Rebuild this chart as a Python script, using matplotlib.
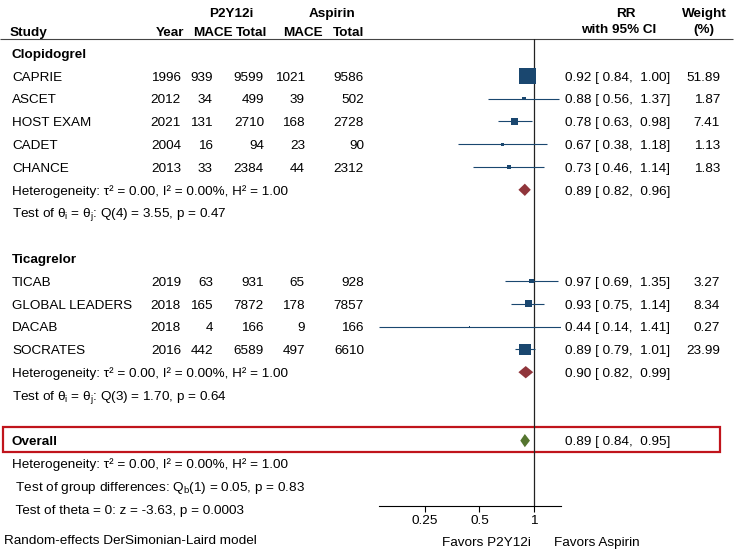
import numpy as np
import matplotlib
matplotlib.use("Agg")
import matplotlib.pyplot as plt
from matplotlib.patches import Rectangle

plt.rcParams["font.family"] = ["Liberation Sans", "DejaVu Sans"]
plt.rcParams["mathtext.fontset"] = "custom"
plt.rcParams["mathtext.rm"] = "Liberation Sans"

# ---- data ----
clop_names = ["CAPRIE", "ASCET", "HOST EXAM", "CADET", "CHANCE"]
clop_year = [1996, 2012, 2021, 2004, 2013]
clop_mace_p = [939, 34, 131, 16, 33]
clop_total_p = [9599, 499, 2710, 94, 2384]
clop_mace_a = [1021, 39, 168, 23, 44]
clop_total_a = [9586, 502, 2728, 90, 2312]
clop_rr = [0.92, 0.88, 0.78, 0.67, 0.73]
clop_lo = [0.84, 0.56, 0.63, 0.38, 0.46]
clop_hi = [1.00, 1.37, 0.98, 1.18, 1.14]
clop_w = [51.89, 1.87, 7.41, 1.13, 1.83]

tica_names = ["TICAB", "GLOBAL LEADERS", "DACAB", "SOCRATES"]
tica_year = [2019, 2018, 2018, 2016]
tica_mace_p = [63, 165, 4, 442]
tica_total_p = [931, 7872, 166, 6589]
tica_mace_a = [65, 178, 9, 497]
tica_total_a = [928, 7857, 166, 6610]
tica_rr = [0.97, 0.93, 0.44, 0.89]
tica_lo = [0.69, 0.75, 0.14, 0.79]
tica_hi = [1.35, 1.14, 1.41, 1.01]
tica_w = [3.27, 8.34, 0.27, 23.99]

sub_rr = [0.89, 0.90]
sub_lo = [0.82, 0.82]
sub_hi = [0.96, 0.99]
sub_het = ["Heterogeneity: τ² = 0.00, I² = 0.00%, H² = 1.00",
           "Heterogeneity: τ² = 0.00, I² = 0.00%, H² = 1.00"]
sub_test = [r"Test of θ$_\mathregular{i}$ = θ$_\mathregular{j}$: Q(4) = 3.55, p = 0.47",
            r"Test of θ$_\mathregular{i}$ = θ$_\mathregular{j}$: Q(3) = 1.70, p = 0.64"]

overall_rr, overall_lo, overall_hi = 0.89, 0.84, 0.95
overall_lines = ["Heterogeneity: τ² = 0.00, I² = 0.00%, H² = 1.00",
                 r" Test of group differences: Q$_\mathregular{b}$(1) = 0.05, p = 0.83",
                 " Test of theta = 0: z = -3.63, p = 0.0003"]

NAVY = "#1a476f"
MAROON = "#90353b"
GREEN = "#55752f"
FS = 9.7

W, H = 737, 552
ROW0, DY = 53.0, 22.8  # pixel y of first row, row spacing


def prow(py):
    return (py - ROW0) / DY


fig = plt.figure(figsize=(W / 100, H / 100), dpi=100)
tx = fig.add_axes([0, 0, 1, 1])
tx.set_xlim(0, W)
tx.set_ylim(prow(H), prow(0))
tx.set_axis_off()

# forest axes: log scale, x=1 at px 534, 54.5 px per doubling
xmin, xmax = 0.14, 1.41
x1px, dbl = 534.0, 54.5
left_px = x1px + dbl * np.log2(xmin)
right_px = x1px + dbl * np.log2(xmax)
top_px, bot_px = 39.0, 505.7
fx = fig.add_axes([left_px / W, 1 - bot_px / H, (right_px - left_px) / W, (bot_px - top_px) / H])
fx.set_xscale("log")
fx.set_xlim(xmin, xmax)
fx.set_ylim(prow(bot_px), prow(top_px))
fx.patch.set_visible(False)
for s in ["top", "right", "left"]:
    fx.spines[s].set_visible(False)
fx.spines["bottom"].set_linewidth(0.8)
fx.set_yticks([])
fx.set_xticks([0.25, 0.5, 1])
fx.set_xticklabels(["0.25", "0.5", "1"], fontsize=FS)
fx.xaxis.set_minor_locator(matplotlib.ticker.NullLocator())
fx.tick_params(axis="x", length=4, width=0.8, pad=3)
fx.axvline(1, color="#222222", lw=0.9)

OFF = 0.21  # baseline offset so that caps are centred on the row


def txt(x, r, s, ha="left", bold=False, size=FS):
    tx.text(x, r + OFF, s, ha=ha, va="baseline", fontsize=size,
            fontweight="bold" if bold else "normal", color="black")


# headers
txt(231, prow(12), "P2Y12i", ha="center", bold=True)
txt(332, prow(12), "Aspirin", ha="center", bold=True)
txt(10, prow(31), "Study", bold=True)
txt(184, prow(31), "Year", ha="right", bold=True)
txt(233, prow(31), "MACE", ha="right", bold=True)
txt(267, prow(31), "Total", ha="right", bold=True)
txt(323, prow(31), "MACE", ha="right", bold=True)
txt(364, prow(31), "Total", ha="right", bold=True)
txt(626, prow(12), "RR", ha="center", bold=True)
txt(619, prow(28), "with 95% CI", ha="center", bold=True)
txt(704, prow(12), "Weight", ha="center", bold=True)
txt(704, prow(28), "(%)", ha="center", bold=True)
tx.hlines(prow(39), 0, 733, color="#444444", lw=0.8)


def study_rows(start, names, year, mp, tp, ma, ta, rr, lo, hi, w):
    rows = np.arange(len(names)) + start
    for i, r in enumerate(rows):
        txt(12, r, names[i])
        txt(181, r, str(year[i]), ha="right")
        txt(213, r, str(mp[i]), ha="right")
        txt(264, r, str(tp[i]), ha="right")
        txt(305, r, str(ma[i]), ha="right")
        txt(364, r, str(ta[i]), ha="right")
        txt(565, r, f"{rr[i]:.2f} [ {lo[i]:.2f},  {hi[i]:.2f}]")
        txt(720, r, f"{w[i]:.2f}", ha="right")
    fx.hlines(rows, lo, hi, color=NAVY, lw=0.8, zorder=2)
    side_pt = (2.2 * np.sqrt(w) + 0.6) * 0.72
    fx.scatter(rr, rows, s=side_pt ** 2, marker="s", color=NAVY, lw=0, zorder=3)
    return rows


def diamond(r, est, lo, hi, color, hh=0.27):
    fx.fill([lo, est, hi, est], [r, r - hh, r, r + hh], color=color, lw=0, zorder=3)
    txt(565, r, f"{est:.2f} [ {lo:.2f},  {hi:.2f}]")


# Clopidogrel
txt(12, 0, "Clopidogrel", bold=True)
study_rows(1, clop_names, clop_year, clop_mace_p, clop_total_p, clop_mace_a,
           clop_total_a, clop_rr, clop_lo, clop_hi, clop_w)
diamond(6, sub_rr[0], sub_lo[0], sub_hi[0], MAROON)
txt(12, 6, sub_het[0])
txt(12, 7, sub_test[0])

# Ticagrelor
txt(12, 9, "Ticagrelor", bold=True)
study_rows(10, tica_names, tica_year, tica_mace_p, tica_total_p, tica_mace_a,
           tica_total_a, tica_rr, tica_lo, tica_hi, tica_w)
diamond(14, sub_rr[1], sub_lo[1], sub_hi[1], MAROON)
txt(12, 14, sub_het[1])
txt(12, 15, sub_test[1])

# Overall
txt(12, 17, "Overall", bold=True)
diamond(17, overall_rr, overall_lo, overall_hi, GREEN, hh=0.29)
for k, line in enumerate(overall_lines):
    txt(12, 18 + k, line)
tx.add_patch(Rectangle((3, prow(427)), 717, prow(452) - prow(427),
                       fill=False, ec="#c0141c", lw=1.6, zorder=5))

txt(531, prow(541), "Favors P2Y12i", ha="right")
txt(554, prow(541), "Favors Aspirin")
txt(4, prow(539), "Random-effects DerSimonian-Laird model")

fig.savefig("out.png", dpi=100, facecolor="white")
